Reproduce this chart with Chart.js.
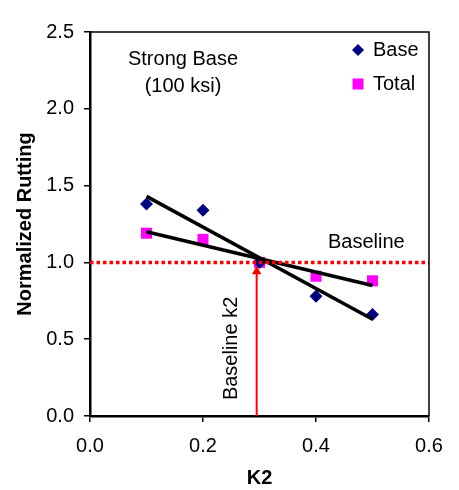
<!DOCTYPE html>
<html>
<head>
<meta charset="utf-8">
<script src="https://cdn.jsdelivr.net/npm/chart.js@4/dist/chart.umd.min.js"></script>
<style>
  html, body { margin: 0; padding: 0; background: #fff; }
  #wrap { width: 459px; height: 490px; }
</style>
</head>
<body>
<div id="wrap"><canvas id="chart" width="459" height="490"></canvas></div>
<script>
// values
const k2Values = [0.1, 0.2, 0.3, 0.4, 0.5];
const baseRutting = [1.38, 1.34, 1.0, 0.78, 0.66];
const totalRutting = [1.19, 1.15, 1.0, 0.91, 0.88];

const trendK2 = [0.1, 0.5];
const baseTrend = [1.43, 0.63];
const totalTrend = [1.20, 0.85];

const baselineRange = [0, 0.6];
const baselineRutting = 1.0;
const baselineK2 = 0.295;
const arrowRange = [0, 0.94];

const FONT = '"Liberation Sans", Arial, sans-serif';
const NAVY = "#000080";
const MAGENTA = "#FF00FF";
const RED = "#FF0000";

const toPoints = (xs, ys) => xs.map((x, i) => ({ x, y: ys[i] }));

// text labels, legend and plot frame
const annotations = {
  id: "annotations",
  afterDatasetsDraw(chart) {
    const { ctx, chartArea: a, scales } = chart;
    const x = scales.x, y = scales.y;
    ctx.save();

    // frame on top and right
    ctx.strokeStyle = "#000";
    ctx.lineWidth = 1.5;
    ctx.beginPath();
    ctx.moveTo(a.left, a.top);
    ctx.lineTo(a.right, a.top);
    ctx.lineTo(a.right, a.bottom);
    ctx.stroke();

    ctx.fillStyle = "#000";
    ctx.font = "20px " + FONT;
    ctx.textBaseline = "middle";
    ctx.textAlign = "center";
    ctx.fillText("Strong Base", x.getPixelForValue(0.1646), y.getPixelForValue(2.32));
    ctx.fillText("(100 ksi)", x.getPixelForValue(0.1646), y.getPixelForValue(2.145));
    ctx.fillText("Baseline", x.getPixelForValue(0.489), y.getPixelForValue(1.13));

    ctx.save();
    ctx.translate(x.getPixelForValue(0.251), y.getPixelForValue(0.44));
    ctx.rotate(-Math.PI / 2);
    ctx.fillText("Baseline k2", 0, 0);
    ctx.restore();

    // legend
    const lx = 358, ly1 = 50, ly2 = 84;
    ctx.fillStyle = NAVY;
    ctx.beginPath();
    ctx.moveTo(lx, ly1 - 6);
    ctx.lineTo(lx + 6, ly1);
    ctx.lineTo(lx, ly1 + 6);
    ctx.lineTo(lx - 6, ly1);
    ctx.closePath();
    ctx.fill();
    ctx.fillStyle = MAGENTA;
    ctx.fillRect(lx - 5.5, ly2 - 5.5, 11, 11);

    ctx.fillStyle = "#000";
    ctx.textAlign = "left";
    ctx.fillText("Base", 373, ly1);
    ctx.fillText("Total", 373, ly2);

    ctx.restore();
  }
};

new Chart(document.getElementById("chart"), {
  type: "scatter",
  data: {
    datasets: [
      {
        label: "Baseline",
        type: "line",
        data: toPoints(baselineRange, [baselineRutting, baselineRutting]),
        borderColor: RED,
        borderWidth: 3.5,
        borderDash: [3.5, 3],
        pointRadius: 0,
        order: 1,
      },
      {
        label: "Baseline k2",
        type: "line",
        data: toPoints([baselineK2, baselineK2], arrowRange),
        borderColor: RED,
        borderWidth: 2,
        pointStyle: "triangle",
        pointRadius: [0, 5.5],
        pointBackgroundColor: RED,
        pointBorderColor: RED,
        pointBorderWidth: 0,
        order: 1,
      },
      {
        label: "Base trend",
        type: "line",
        data: toPoints(trendK2, baseTrend),
        borderColor: "#000",
        borderWidth: 3.5,
        pointRadius: 0,
        order: 3,
      },
      {
        label: "Total trend",
        type: "line",
        data: toPoints(trendK2, totalTrend),
        borderColor: "#000",
        borderWidth: 3.5,
        pointRadius: 0,
        order: 3,
      },
      {
        label: "Base",
        data: toPoints(k2Values, baseRutting),
        pointStyle: "rectRot",
        pointRadius: 6.5,
        backgroundColor: NAVY,
        borderColor: NAVY,
        borderWidth: 0,
        order: 5,
      },
      {
        label: "Total",
        data: toPoints(k2Values, totalRutting),
        pointStyle: "rect",
        pointRadius: 7.8,
        backgroundColor: MAGENTA,
        borderColor: MAGENTA,
        borderWidth: 0,
        order: 6,
      },
    ],
  },
  options: {
    responsive: false,
    animation: false,
    layout: { padding: { top: 32, right: 30, left: 0, bottom: 0 } },
    plugins: {
      legend: { display: false },
      tooltip: { enabled: false },
    },
    scales: {
      x: {
        type: "linear",
        min: 0,
        max: 0.6,
        afterFit: (scale) => { scale.height = 74; },
        ticks: {
          stepSize: 0.2,
          color: "#000",
          padding: 12,
          font: { family: FONT, size: 20 },
          callback: (v) => v.toFixed(1),
        },
        grid: { drawOnChartArea: false, drawTicks: true, tickLength: 6, color: "#000", lineWidth: 1.5 },
        border: { color: "#000", width: 2.5 },
        title: {
          display: true,
          text: "K2",
          color: "#000",
          padding: { top: 0, bottom: 0 },
          font: { family: FONT, size: 20, weight: "bold" },
        },
      },
      y: {
        type: "linear",
        min: 0,
        max: 2.5,
        afterFit: (scale) => { scale.width = 90; },
        ticks: {
          stepSize: 0.5,
          color: "#000",
          padding: 10,
          font: { family: FONT, size: 20 },
          callback: (v) => v.toFixed(1),
        },
        grid: { drawOnChartArea: false, drawTicks: true, tickLength: 6, color: "#000", lineWidth: 1.5 },
        border: { color: "#000", width: 2.5 },
        title: {
          display: true,
          text: "Normalized Rutting",
          color: "#000",
          padding: { top: 13, bottom: 0 },
          font: { family: FONT, size: 20, weight: "bold" },
        },
      },
    },
  },
  plugins: [annotations],
});
</script>
</body>
</html>
